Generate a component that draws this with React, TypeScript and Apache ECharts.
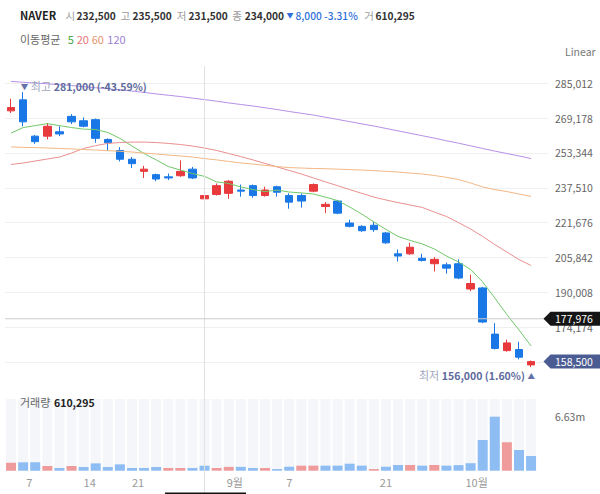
import React, { useEffect, useRef } from 'react';
import * as echarts from 'echarts';

// ---- data (NAVER daily, 2022.08.04 ~ 2022.10.11) ----
const dates = ['2022.08.04','2022.08.05','2022.08.08','2022.08.09','2022.08.10','2022.08.11','2022.08.12','2022.08.16','2022.08.17','2022.08.18','2022.08.19','2022.08.22','2022.08.23','2022.08.24','2022.08.25','2022.08.26','2022.08.29','2022.08.30','2022.08.31','2022.09.01','2022.09.02','2022.09.05','2022.09.06','2022.09.07','2022.09.08','2022.09.13','2022.09.14','2022.09.15','2022.09.16','2022.09.19','2022.09.20','2022.09.21','2022.09.22','2022.09.23','2022.09.26','2022.09.27','2022.09.28','2022.09.29','2022.09.30','2022.10.04','2022.10.05','2022.10.06','2022.10.07','2022.10.11'];
const opens = [272500,277500,261000,261000,263000,270000,268000,268500,259500,254500,250500,245000,243500,242500,243000,246000,232500,234500,235000,236500,238500,234000,238000,234000,234000,236000,229000,231500,221500,220000,220500,217000,207500,207500,205500,203000,202500,203000,191500,192000,171000,163500,164000,157000];
const closes = [274000,267500,258500,265500,262000,267500,265500,260000,258000,250500,248500,246000,241500,242000,245000,242000,234000,238500,240500,236000,234000,236500,235500,231000,231500,239000,230000,226000,220000,218000,218500,212500,206500,210500,204500,205000,201000,196500,194000,176500,164500,167000,160500,158500];
const lows = [271500,265500,257500,259500,261000,266500,265000,258000,254500,249500,246500,242000,240500,241000,242500,241500,231500,234000,232500,233500,233000,233500,233500,228000,228500,235500,226000,225500,219500,217500,217500,212000,204000,207000,204000,199500,198500,196000,190500,176000,164000,163000,159500,156000];
const highs = [278000,281000,261500,267000,265500,271000,269500,269000,260000,256000,251500,247500,244000,244000,250000,247000,235500,239500,241000,239000,239000,238000,238500,235000,235000,239500,231000,232000,223000,220500,222000,217500,209500,212500,207500,206000,203500,205000,198000,192500,176000,168500,167500,159000];
const volumes = [980000,1030000,1030000,580000,330000,580000,450000,900000,450000,780000,330000,330000,450000,330000,330000,330000,610295,330000,470000,470000,330000,330000,200000,490000,620000,620000,620000,620000,860000,620000,200000,490000,700000,700000,620000,700000,620000,680000,920000,3770000,6630000,3490000,2540000,1800000];
const prevCloseBefore = 271000;

const ma5 = [262400,264900,265800,266700,265800,264900,264200,264000,262700,260000,256500,253100,250200,247200,245600,244000,242700,240200,239500,237900,236700,235800,236500,235600,235200,234700,233300,231700,228800,225600,222000,218600,215400,213600,212000,209700,206500,203800,200400,194700,187400,179900,172900,165600];
const ma20 = [248100,248800,249700,250600,251500,253300,255400,256700,257700,258100,258300,258300,258100,257700,257200,256500,255600,254500,253100,251700,250200,248600,247000,245400,243800,242000,240200,238500,236700,235000,233300,232000,230800,229700,228600,226500,224500,221700,218800,215400,211700,208300,204900,202200];
const ma60 = [256100,255900,255800,255600,255400,255200,254900,254700,254400,254100,253800,253300,252900,252400,252000,251500,250800,250200,249500,248800,248300,247700,247200,246700,246500,246300,246200,246000,245800,245600,245300,245000,244700,244200,243800,243100,242300,241300,239700,237900,236700,235800,234700,233600];
const ma120 = [285900,285500,285100,284800,284400,284000,283500,283000,282500,282000,281500,280900,280200,279600,279000,278300,277600,276900,276100,275400,274700,273900,273100,272200,271400,270600,269600,268600,267600,266600,265600,264500,263400,262300,261200,260100,258900,257800,256600,255400,254200,253100,252000,250800];

const maPeriods = ['5', '20', '60', '120'];
const xTickPos = [1.5, 6.5, 10.5, 18.5, 23, 31, 38.5];
const xTickLabels = ['7', '14', '21', '9월', '7', '21', '10월'];
const yTickStep = 15834;
const yAxisMin = 142506;
const yAxisMax = 300846;
const volAxisMax = 8800000;
const hoverIndex = 16;
const crosshairPrice = 177976;

// ---- styles ----
const FONT = '"Noto Sans CJK KR", "Noto Sans", sans-serif';
const UP = '#e8393c';
const DOWN = '#1a78e6';
const VOL_UP = '#ef9b9b';
const VOL_DOWN = '#8dbdf3';
const MA_COLORS = ['#72c86a', '#ea8f8f', '#f2b784', '#b690e6'];
const MA_TEXT = ['#48a948', '#e57676', '#e3946a', '#9a7fd6'];

const fmt = (v: number) => Math.round(v).toLocaleString('en-US');

export default function App() {
  const ref = useRef<HTMLDivElement>(null);

  useEffect(() => {
    if (!ref.current) return;
    const chart = echarts.init(ref.current, null, { renderer: 'svg' });
    const n = closes.length;
    const candleData = closes.map((c, i) => [i, opens[i], c, lows[i], highs[i]]);
    const volData = volumes.map((v, i) => {
      const prev = i === 0 ? prevCloseBefore : closes[i - 1];
      return { value: [i, v], itemStyle: { color: closes[i] > prev ? VOL_UP : VOL_DOWN } };
    });
    const maxVol = Math.max(...volumes);
    const mas = [ma5, ma20, ma60, ma120];

    chart.setOption({
      animation: false,
      textStyle: { fontFamily: FONT },
      grid: [
        { left: 5, right: 52, top: 48.5, height: 348.3 },
        { left: 5, right: 52, top: 399, height: 71.7 },
      ],
      xAxis: [
        {
          type: 'value', gridIndex: 0, min: -0.5, max: 44.4,
          axisLine: { show: false }, axisTick: { show: false }, axisLabel: { show: false }, splitLine: { show: false },
        },
        {
          type: 'value', gridIndex: 1, min: -0.5, max: 44.4,
          axisLine: { show: false }, axisTick: { show: false }, splitLine: { show: false },
          axisLabel: {
            customValues: xTickPos,
            color: '#9a9a9a', fontSize: 11, margin: 6, fontFamily: FONT,
            formatter: (v: number) => {
              const k = xTickPos.findIndex((p) => Math.abs(p - v) < 1e-6);
              return k >= 0 ? xTickLabels[k] : '';
            },
          },
        },
      ],
      yAxis: [
        {
          type: 'value', gridIndex: 0, position: 'right', min: yAxisMin, max: yAxisMax, interval: yTickStep,
          axisLine: { show: false }, axisTick: { show: false },
          axisLabel: { showMinLabel: false, showMaxLabel: false, color: '#666', fontSize: 10.5, margin: 7, fontFamily: FONT, formatter: (v: number) => fmt(v) },
          splitLine: { show: true, showMinLine: false, showMaxLine: false, lineStyle: { color: '#f0f0f0', width: 1 } },
        },
        {
          type: 'value', gridIndex: 1, position: 'right', min: 0, max: volAxisMax,
          axisLine: { show: false }, axisTick: { show: false }, splitLine: { show: false },
          axisLabel: { customValues: [maxVol], color: '#666', fontSize: 10.5, margin: 7, fontFamily: FONT, formatter: (v: number) => (v / 1e6).toFixed(2) + 'm' },
        },
      ],
      series: [
        {
          type: 'candlestick', xAxisIndex: 0, yAxisIndex: 0,
          data: candleData, encode: { x: 0, y: [1, 2, 3, 4] },
          barWidth: 8,
          itemStyle: { color: UP, color0: DOWN, borderColor: UP, borderColor0: DOWN, borderWidth: 1 },
        },
        ...mas.map((m, k) => ({
          type: 'line', xAxisIndex: 0, yAxisIndex: 0, name: 'MA' + maPeriods[k],
          data: m.map((v, i) => [i, v]), symbol: 'none', showSymbol: false,
          lineStyle: { width: 1, color: MA_COLORS[k] }, z: 3,
        })),
        {
          type: 'bar', xAxisIndex: 1, yAxisIndex: 1, data: volData, barWidth: 10,
          showBackground: true, backgroundStyle: { color: '#f4f6fa' },
        },
      ],
    });

    const px = (x: number, y: number) => chart.convertToPixel({ xAxisIndex: 0, yAxisIndex: 0 }, [x, y]) as number[];
    const h = hoverIndex;
    const change = closes[h] - closes[h - 1];
    const pct = (change / closes[h - 1]) * 100;
    const last = closes[n - 1];
    const maxHigh = Math.max(...highs);
    const maxIdx = highs.indexOf(maxHigh);
    const minLow = Math.min(...lows);
    const minIdx = lows.indexOf(minLow);
    const pMax = px(maxIdx, maxHigh);
    const pMin = px(minIdx, minLow);
    const yLast = px(0, last)[1];
    const yCross = px(0, crosshairPrice)[1];
    const xHover = px(h, 0)[0];

    const txt = (text: string, x: number, y: number, fill: string, size = 11, weight: any = 'normal', extra: any = {}) => ({
      type: 'text', x, y, z: 50,
      style: { text, fill, fontSize: size, fontWeight: weight, fontFamily: FONT, textVerticalAlign: 'middle', textAlign: 'left', ...extra },
    });

    const tag = (y: number, color: string, label: string) => ({
      type: 'group', z: 100, children: [
        { type: 'polygon', z: 100, shape: { points: [[543.5, y], [550.5, y - 7], [600, y - 7], [600, y + 7], [550.5, y + 7]] }, style: { fill: color } },
        { type: 'text', z: 101, x: 555, y, style: { text: label, fill: '#fff', fontSize: 10.5, fontFamily: FONT, textVerticalAlign: 'middle', textAlign: 'left' } },
      ],
    });

    const LBL = '#9c9c9c';
    const VAL = '#333';
    const BLUE = '#2c6fd8';
    const VS = 10.2;
    const graphic: any[] = [
      txt('NAVER', 20, 15, '#222', 11, 'bold'),
      txt('시', 65.5, 15, LBL, 10.5), txt(fmt(opens[h]), 76.5, 15, VAL, VS, 600),
      txt('고', 120.5, 15, LBL, 10.5), txt(fmt(highs[h]), 132.5, 15, VAL, VS, 600),
      txt('저', 176.7, 15, LBL, 10.5), txt(fmt(lows[h]), 188.5, 15, VAL, VS, 600),
      txt('종', 232.3, 15, LBL, 10.5), txt(fmt(closes[h]), 244.7, 15, VAL, VS, 600),
      txt(change < 0 ? '▼' : '▲', 286.5, 15, BLUE, 7),
      txt(fmt(Math.abs(change)) + ' ' + pct.toFixed(2) + '%', 295.5, 15, BLUE, VS, 500),
      txt('거', 364.3, 15, LBL, 10.5), txt(fmt(volumes[h]), 375.5, 15, VAL, VS, 600),
      txt('이동평균', 20, 39.3, '#666', 11),
      txt(maPeriods[0], 67.7, 39.3, MA_TEXT[0], 11),
      txt(maPeriods[1], 76.7, 39.3, MA_TEXT[1], 11),
      txt(maPeriods[2], 91.7, 39.3, MA_TEXT[2], 11),
      txt(maPeriods[3], 107.3, 39.3, MA_TEXT[3], 11),
      txt('Linear', 565, 51, '#777', 10.5),
      txt('거래량', 20, 402.3, '#666', 11),
      txt(fmt(volumes[h]), 54, 402.3, '#222', 10.5, 'bold'),
      {
        type: 'text', x: pMax[0] - 2.5, y: pMax[1] - 6, z: 50,
        style: {
          text: '{a|▼} {b|최고} {c|' + fmt(maxHigh) + ' (' + (((last - maxHigh) / maxHigh) * 100).toFixed(2) + '%)}',
          textVerticalAlign: 'middle', textAlign: 'left', fontFamily: FONT,
          rich: {
            a: { fontSize: 7.5, fill: '#6573a8', fontFamily: FONT },
            b: { fontSize: 11, fill: '#a0a6bd', fontFamily: FONT },
            c: { fontSize: 10.5, fill: '#5d6a9c', fontWeight: 600, fontFamily: FONT },
          },
        },
      },
      {
        type: 'text', x: pMin[0] + 4, y: pMin[1] + 8, z: 50,
        style: {
          text: '{b|최저} {c|' + fmt(minLow) + ' (' + (((last - minLow) / minLow) * 100).toFixed(2) + '%)} {a|▲}',
          textVerticalAlign: 'middle', textAlign: 'right', fontFamily: FONT,
          rich: {
            a: { fontSize: 7.5, fill: '#6573a8', fontFamily: FONT },
            b: { fontSize: 11, fill: '#a0a6bd', fontFamily: FONT },
            c: { fontSize: 10.5, fill: '#5d6a9c', fontWeight: 600, fontFamily: FONT },
          },
        },
      },
      { type: 'line', z: 40, shape: { x1: xHover, y1: 66, x2: xHover, y2: 494 }, style: { stroke: '#e2e2e2', lineWidth: 1 } },
      { type: 'line', z: 40, shape: { x1: 5, y1: yCross, x2: 544, y2: yCross }, style: { stroke: '#cccccc', lineWidth: 1 } },
      { type: 'rect', z: 100, shape: { x: xHover - 39.5, y: 492.5, width: 81, height: 6 }, style: { fill: '#111' } },
      tag(yCross, '#151515', fmt(crosshairPrice)),
      tag(yLast, '#4b5c93', fmt(last)),
    ];
    chart.setOption({ graphic });

    return () => chart.dispose();
  }, []);

  return <div ref={ref} style={{ position: 'fixed', left: 0, top: 0, width: 600, height: 494, background: '#fff' }} />;
}
